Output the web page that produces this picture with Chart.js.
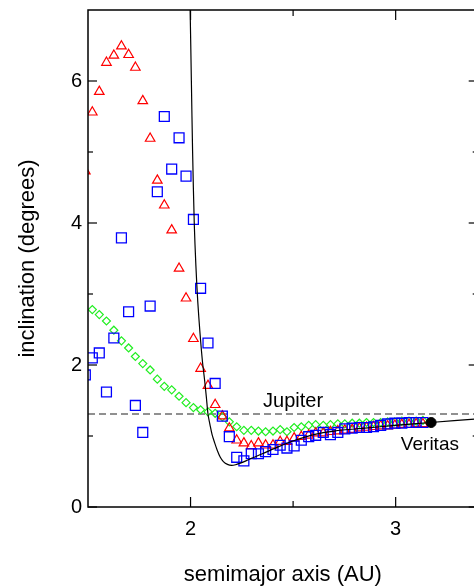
<!DOCTYPE html>
<html>
<head>
<meta charset="utf-8">
<script src="https://cdn.jsdelivr.net/npm/chart.js@4.4.1/dist/chart.umd.min.js"></script>
<style>
  html, body { margin: 0; padding: 0; background: #fff; overflow: hidden; }
  #myChart { display: block; }
</style>
</head>
<body>
<canvas id="myChart" width="486" height="586"></canvas>
<script>
// sampled semimajor axes (AU), shared by the three runs
let semimajor = [1.487, 1.521, 1.555, 1.590, 1.626, 1.663, 1.698, 1.731, 1.767, 1.803,
  1.838, 1.872, 1.908, 1.944, 1.978, 2.014, 2.049, 2.085, 2.120, 2.155,
  2.189, 2.225, 2.260, 2.296, 2.331, 2.366, 2.402, 2.437, 2.470, 2.505,
  2.540, 2.576, 2.610, 2.647, 2.682, 2.718, 2.752, 2.788, 2.823, 2.858,
  2.892, 2.927, 2.961, 2.996, 3.030, 3.065, 3.100, 3.133];

let incRed = [4.73, 5.56, 5.85, 6.26, 6.36, 6.49, 6.37, 6.19, 5.72, 5.19,
  4.60, 4.25, 3.90, 3.36, 2.94, 2.37, 1.95, 1.71, 1.44, 1.28,
  1.11, 0.94, 0.90, 0.86, 0.90, 0.87, 0.87, 0.92, 0.92, 0.97,
  0.99, 1.01, 1.04, 1.04, 1.06, 1.07, 1.08, 1.09, 1.11, 1.12,
  1.13, 1.14, 1.14, 1.15, 1.16, 1.16, 1.17, 1.17];

let incBlue = [1.86, 2.10, 2.17, 1.62, 2.38, 3.79, 2.75, 1.43, 1.05, 2.83,
  4.44, 5.50, 4.76, 5.20, 4.66, 4.05, 3.08, 2.31, 1.74, 1.28,
  0.99, 0.70, 0.65, 0.75, 0.75, 0.78, 0.81, 0.87, 0.83, 0.86,
  0.94, 0.99, 1.01, 1.05, 1.02, 1.05, 1.10, 1.11, 1.12, 1.12,
  1.13, 1.15, 1.17, 1.18, 1.18, 1.19, 1.19, 1.19];

let incGreen = [null, 2.78, 2.71, 2.62, 2.49, 2.34, 2.24, 2.12, 2.02, 1.93,
  1.80, 1.70, 1.65, 1.56, 1.47, 1.40, 1.37, 1.34, 1.32, 1.27,
  1.20, 1.13, 1.08, 1.08, 1.07, 1.06, 1.07, 1.09, 1.06, 1.12,
  1.13, 1.15, 1.16, 1.15, 1.16, 1.17, 1.17, 1.18, 1.18, 1.19,
  1.19, 1.19, 1.20, 1.20, 1.21, 1.21, 1.21, 1.22];

// forced inclination curve
let curveA = [1.995, 1.998, 2.004, 2.010, 2.018, 2.026, 2.035, 2.046, 2.058, 2.068,
  2.077, 2.085, 2.096, 2.105, 2.118, 2.130, 2.145, 2.160, 2.180, 2.200,
  2.220, 2.240, 2.270, 2.300, 2.350, 2.430, 2.510, 2.600, 2.700, 2.850,
  3.000, 3.170, 3.400];
let curveInc = [7.4, 7.0, 6.0, 5.0, 4.0, 3.4, 2.9, 2.45, 2.05, 1.80,
  1.55, 1.31, 1.14, 1.02, 0.90, 0.80, 0.70, 0.64, 0.60, 0.585,
  0.595, 0.615, 0.65, 0.69, 0.75, 0.85, 0.94, 1.02, 1.07, 1.11,
  1.15, 1.19, 1.24];

let jupiterInc = 1.31;
let veritas = { a: 3.173, inc: 1.19 };

let xRange = [1.5, 3.4];
let yRange = [0, 7];
let xTicks = [2, 3];
let yTicks = [0, 2, 4, 6];
let xMinor = [2.5];
let yMinor = [1, 3, 5];

function pts(xs, ys) {
  let out = [];
  xs.forEach((x, i) => { if (ys[i] !== null) out.push({ x: x, y: ys[i] }); });
  return out;
}

Chart.defaults.font.family = '"Liberation Sans", Arial, Helvetica, sans-serif';
Chart.defaults.color = '#000';

// box round the plot with inward ticks, plus the two text labels
const framePlugin = {
  id: 'frame',
  afterDatasetsDraw(chart) {
    const { ctx, chartArea: a, scales: { x, y } } = chart;
    const seg = (x1, y1, x2, y2) => { ctx.beginPath(); ctx.moveTo(x1, y1); ctx.lineTo(x2, y2); ctx.stroke(); };
    ctx.save();
    ctx.strokeStyle = '#000';
    ctx.lineWidth = 1.5;
    ctx.strokeRect(a.left, a.top, a.right - a.left, a.bottom - a.top);
    ctx.lineWidth = 1.2;
    xTicks.forEach(v => { const p = x.getPixelForValue(v); seg(p, a.bottom, p, a.bottom - 10); seg(p, a.top, p, a.top + 10); });
    xMinor.forEach(v => { const p = x.getPixelForValue(v); seg(p, a.bottom, p, a.bottom - 6); seg(p, a.top, p, a.top + 6); });
    yTicks.forEach(v => { const p = y.getPixelForValue(v); seg(a.left, p, a.left + 9, p); seg(a.right, p, a.right - 9, p); });
    yMinor.forEach(v => { const p = y.getPixelForValue(v); seg(a.left, p, a.left + 5, p); seg(a.right, p, a.right - 5, p); });

    ctx.fillStyle = '#000';
    ctx.textAlign = 'center';
    ctx.textBaseline = 'middle';
    ctx.font = '20px "Liberation Sans", Arial, sans-serif';
    ctx.fillText('Jupiter', x.getPixelForValue(2.5), y.getPixelForValue(1.49));
    ctx.font = '19px "Liberation Sans", Arial, sans-serif';
    ctx.fillText('Veritas', x.getPixelForValue(3.167), y.getPixelForValue(0.87));
    ctx.restore();
  }
};

let ctx = document.getElementById('myChart').getContext('2d');

let myChart = new Chart(ctx, {
  type: 'scatter',
  data: {
    datasets: [
      {
        label: 'Jupiter',
        data: [{ x: xRange[0], y: jupiterInc }, { x: xRange[1], y: jupiterInc }],
        showLine: true,
        borderColor: '#222',
        borderWidth: 1.2,
        borderDash: [7, 4],
        pointRadius: 0,
        order: 6
      },
      {
        label: 'green',
        data: pts(semimajor, incGreen),
        pointStyle: 'rectRot',
        pointRadius: 4,
        borderColor: '#22ee22',
        backgroundColor: 'rgba(0,0,0,0)',
        borderWidth: 1.2,
        clip: 0,
        order: 5
      },
      {
        label: 'red',
        data: pts(semimajor, incRed),
        pointStyle: 'triangle',
        pointRadius: 5.5,
        borderColor: '#ff0000',
        backgroundColor: 'rgba(0,0,0,0)',
        borderWidth: 1.2,
        clip: 0,
        order: 4
      },
      {
        label: 'blue',
        data: pts(semimajor, incBlue),
        pointStyle: 'rect',
        pointRadius: 7,
        borderColor: '#0000ff',
        backgroundColor: 'rgba(0,0,0,0)',
        borderWidth: 1.3,
        clip: 0,
        order: 3
      },
      {
        label: 'forced',
        data: pts(curveA, curveInc),
        showLine: true,
        borderColor: '#000',
        borderWidth: 1.2,
        tension: 0.3,
        pointRadius: 0,
        clip: 0,
        order: 2
      },
      {
        label: 'Veritas',
        data: [{ x: veritas.a, y: veritas.inc }],
        pointStyle: 'circle',
        pointRadius: 5,
        backgroundColor: '#000',
        borderColor: '#000',
        order: 1
      }
    ]
  },
  options: {
    responsive: false,
    animation: false,
    devicePixelRatio: 1,
    layout: { padding: { top: 10, right: 1, left: 0, bottom: 0 } },
    plugins: {
      legend: { display: false },
      tooltip: { enabled: false }
    },
    scales: {
      x: {
        type: 'linear',
        min: xRange[0],
        max: xRange[1],
        grid: { display: false, drawTicks: false },
        border: { display: false },
        afterBuildTicks: (s) => { s.ticks = xTicks.map(v => ({ value: v })); },
        afterFit: (s) => { s.height = 79; s.paddingLeft = 0; s.paddingRight = 0; },
        ticks: { font: { size: 20 }, padding: 10, maxRotation: 0 },
        title: { display: true, text: 'semimajor axis (AU)', font: { size: 22, lineHeight: 1.0 }, padding: { top: 0, bottom: 0 } }
      },
      y: {
        type: 'linear',
        min: yRange[0],
        max: yRange[1],
        grid: { display: false, drawTicks: false },
        border: { display: false },
        afterBuildTicks: (s) => { s.ticks = yTicks.map(v => ({ value: v })); },
        afterFit: (s) => { s.width = 88; s.paddingTop = 0; s.paddingBottom = 0; },
        ticks: { font: { size: 20 }, padding: 6 },
        title: { display: true, text: 'inclination (degrees)', font: { size: 22 }, padding: { top: 15, bottom: 0 } }
      }
    }
  },
  plugins: [framePlugin]
});
</script>
</body>
</html>
